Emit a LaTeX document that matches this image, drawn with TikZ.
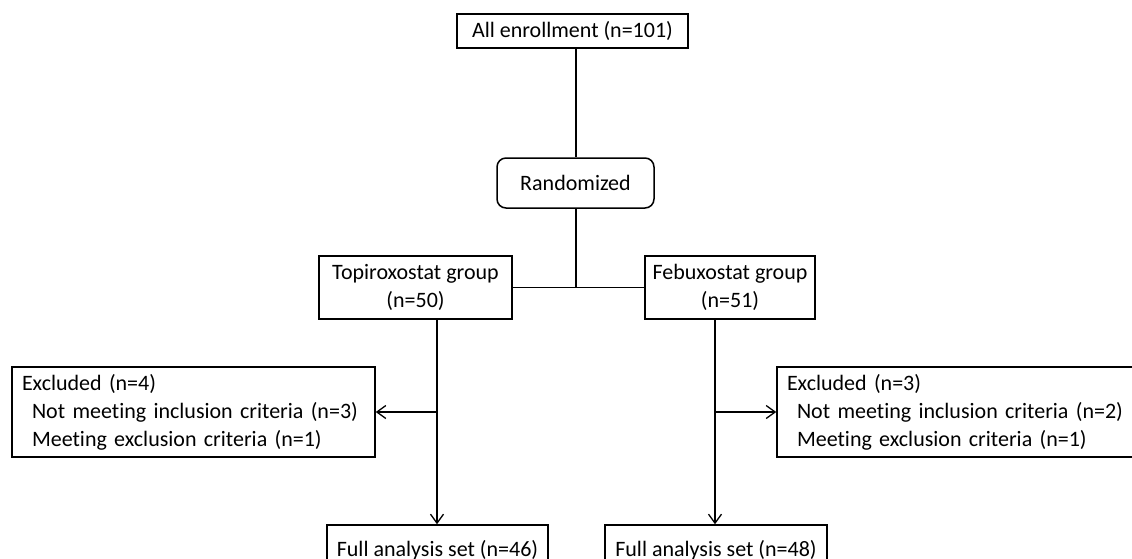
\documentclass[tikz,border=0pt]{standalone}
\usepackage{fontspec}
\setmainfont{Carlito}[Ligatures=NoCommon]
\usetikzlibrary{arrows.meta}

\begin{document}
\begin{tikzpicture}[x=1pt,y=-1pt]
	\tikzstyle{every node}+=[font=\fontsize{22}{28}\selectfont]
	\tikzstyle{box}=[draw=black, line width=1.5pt, inner sep=0pt, align=center]
	\tikzstyle{exbox}=[draw=black, line width=1.5pt, inner xsep=10pt, inner ysep=0pt, minimum height=90pt, text width=343pt, align=left]
	\tikzstyle{link}=[black, line width=1.3pt]
	\tikzstyle{arr}=[link, -{Straight Barb[length=9pt,width=13pt]}]
	\useasboundingbox (0,0) rectangle (1132,558);
	\clip (0,0) rectangle (1132,558);
	\node [box, minimum width=231pt, minimum height=34pt] (enroll) at (572.5,31) {All enrollment (n=101)};
	\node [box, rounded corners=9pt, minimum width=157pt, minimum height=50pt] (rand) at (575.5,183) {Randomized};
	\node [box, minimum width=193pt, minimum height=63pt] (topi) at (415.5,287.5) {Topiroxostat group\\(n=50)};
	\node [box, minimum width=170pt, minimum height=63pt] (febu) at (730,287.5) {Febuxostat group\\(n=51)};
	\node [exbox] (exclL) at (193.5,412) {Excluded (n=4)\\\hspace*{10pt}Not meeting inclusion criteria (n=3)\\\hspace*{10pt}Meeting exclusion criteria (n=1)};
	\node [exbox] (exclR) at (958.5,412) {Excluded (n=3)\\\hspace*{10pt}Not meeting inclusion criteria (n=2)\\\hspace*{10pt}Meeting exclusion criteria (n=1)};
	\node [box, minimum width=221pt, minimum height=50pt] (fasL) at (437.5,550) {Full analysis set (n=46)};
	\node [box, minimum width=222pt, minimum height=50pt] (fasR) at (716,550) {Full analysis set (n=48)};
	\coordinate (split) at (576,287);
	\coordinate (colL) at (437,0);
	\coordinate (colR) at (715,0);
	\draw [link] (enroll.south -| split) -- (rand.north -| split);
	\draw [link] (rand.south -| split) -- (split);
	\draw [link] (topi.east) -- (febu.west);
	\draw [arr] (topi.south -| colL) -- (fasL.north -| colL);
	\draw [arr] (colL |- exclL.east) -- (exclL.east);
	\draw [arr] (febu.south -| colR) -- (fasR.north -| colR);
	\draw [arr] (colR |- exclR.west) -- (exclR.west);
\end{tikzpicture}
\end{document}
